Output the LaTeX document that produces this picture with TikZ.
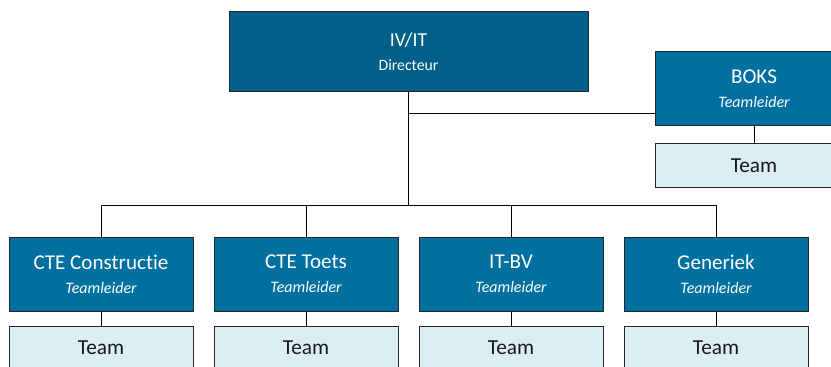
\documentclass[tikz,border=0pt]{standalone}
\usepackage{fontspec}
\setmainfont[Ligatures=NoCommon]{Carlito}
\definecolor{dirblue}{RGB}{0,96,137}
\definecolor{leadblue}{RGB}{0,112,161}
\definecolor{teamblue}{RGB}{218,238,243}
\definecolor{edgegray}{RGB}{38,38,38}

\begin{document}
\begin{tikzpicture}[x=0.75pt,y=-0.75pt,
    lead/.style={draw=edgegray,line width=0.75pt,fill=leadblue,text=white,align=center,
      minimum width=138pt,minimum height=55.5pt,inner sep=0pt,
      font=\fontsize{15.8}{18}\selectfont},
    teambox/.style={draw=edgegray,line width=0.75pt,fill=teamblue,text=black!90,
      minimum width=138pt,minimum height=32.25pt,inner sep=0pt,
      font=\fontsize{16}{18}\selectfont},
    link/.style={draw=black,line width=0.75pt}]
      \clip (0,0) rectangle (831,367);
      \node[lead,fill=dirblue,minimum width=269.25pt,minimum height=60pt,
        font=\fontsize{14.8}{18}\selectfont] (dir) at (408.5,52)
        {IV/IT\\{\fontsize{11.8}{12}\selectfont Directeur}};
      \node[lead,minimum width=148.5pt] (boks) at (754,89)
        {BOKS\\{\fontsize{12}{12}\selectfont\itshape Teamleider}};
      \node[teambox,minimum width=148.5pt] (boksteam) at (754,165.5) {Team};
      \node[lead] (cons) at (101,274) {CTE Constructie\\{\fontsize{12}{12}\selectfont\itshape Teamleider}};
      \node[lead] (toets) at (306,274) {CTE Toets\\{\fontsize{12}{12}\selectfont\itshape Teamleider}};
      \node[lead] (itbv) at (511,274) {IT-BV\\{\fontsize{12}{12}\selectfont\itshape Teamleider}};
      \node[lead] (gen) at (716,274) {Generiek\\{\fontsize{12}{12}\selectfont\itshape Teamleider}};
      \foreach \n in {cons,toets,itbv,gen}{
        \node[teambox] (\n team) at (\n |- 0,347.5) {Team};
        \draw[link] (\n.south) -- (\n team.north);
      }
      % connectors
      \coordinate (boksarm) at (dir.south |- 0,114);
      \coordinate (bus) at (dir.south |- 0,205);
      \draw[link] (dir.south) -- (bus);
      \draw[link] (boksarm) -- (boksarm -| boks.west);
      \draw[link] (boks.south) -- (boksteam.north);
      \draw[link] (bus -| cons.north) -- (bus -| gen.north);
      \foreach \n in {cons,toets,itbv,gen}
        \draw[link] (bus -| \n.north) -- (\n.north);
    \end{tikzpicture}
\end{document}
